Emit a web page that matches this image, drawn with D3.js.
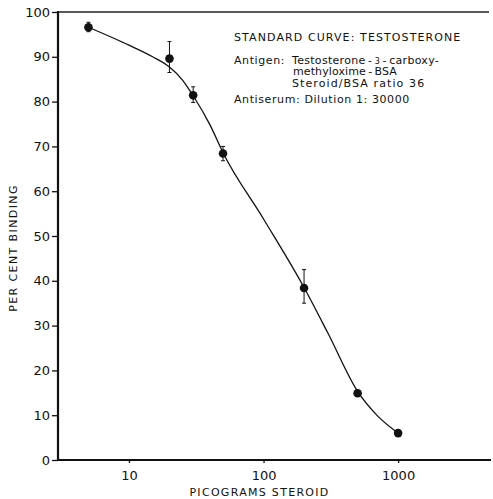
<!DOCTYPE html>
<html>
<head>
<meta charset="utf-8">
<script src="https://cdn.jsdelivr.net/npm/d3@7"></script>
<style>
  body { margin: 0; background: #fff; }
  svg text { font-family: "DejaVu Sans", sans-serif; fill: #111; }
</style>
</head>
<body>
<div id="chart"></div>
<script>
// plot area edges
const margin = { top: 12, right: 2, bottom: 39, left: 58 };
const width = 493 - margin.left - margin.right;
const height = 499 - margin.top - margin.bottom;

// measured points (picograms steroid vs per cent binding)
const doses = [5, 20, 30, 50, 200, 500, 1000];
const binding = [96.6, 89.6, 81.4, 68.4, 38.4, 14.9, 6.0];
const errLow = [95.6, 86.5, 79.8, 66.8, 35.0, null, null];
const errHigh = [97.7, 93.4, 83.3, 70.0, 42.5, null, null];

// hand drawn standard curve
const curveDoses = [5, 10, 15, 20, 25, 30, 40, 50, 100, 200, 300, 500, 700, 1000];
const curveBinding = [96.6, 92.6, 90.0, 87.7, 84.8, 81.3, 74.8, 68.6, 53.8, 38.5, 28.4, 15.3, 9.9, 6.0];

const xTicks = [10, 100, 1000];
const yTicks = [0, 10, 20, 30, 40, 50, 60, 70, 80, 90, 100];

const noteLines = [
  "STANDARD CURVE: TESTOSTERONE",
  "Antigen:",
  "methyloxime\u2009-\u2009BSA",
  "Steroid/BSA ratio 36",
  "Antiserum: Dilution 1: 30000",
];

const svg = d3.select("#chart")
  .append("svg")
  .attr("width", 493)
  .attr("height", 499)
  .append("g")
  .attr("transform", `translate(${margin.left},${margin.top})`);

const x = d3.scaleLog().domain([2.97, 4900]).range([0, width]);
const y = d3.scaleLinear().domain([0, 100]).range([height, 0]);

// y axis
const yAxis = svg.append("g")
  .call(d3.axisLeft(y).tickValues(yTicks).tickSize(6).tickPadding(2).tickSizeOuter(0));
yAxis.select(".domain").remove();
yAxis.selectAll("line").attr("stroke", "#111").attr("stroke-width", 1.3);
yAxis.selectAll("text").style("font-size", "13px").attr("fill", "#111");

// x axis
const xAxis = svg.append("g")
  .attr("transform", `translate(0,${height})`)
  .call(d3.axisBottom(x).tickValues(xTicks).tickFormat(d3.format("d")).tickSize(3).tickPadding(8));
xAxis.select(".domain").remove();
xAxis.selectAll("line").attr("stroke", "#111").attr("stroke-width", 1.3);
xAxis.selectAll("text").style("font-size", "13px").attr("fill", "#111");

// frame lines
svg.append("line").attr("x1", 0).attr("x2", 0).attr("y1", -1).attr("y2", height + 1)
  .attr("stroke", "#111").attr("stroke-width", 2.2);
svg.append("line").attr("x1", 0).attr("x2", width).attr("y1", height).attr("y2", height)
  .attr("stroke", "#111").attr("stroke-width", 2.2);
svg.append("line").attr("x1", 0).attr("x2", width - 2).attr("y1", 0).attr("y2", 0)
  .attr("stroke", "#222").attr("stroke-width", 1.6);

// axis titles
svg.append("text")
  .attr("x", x(100) - 4)
  .attr("y", height + 36)
  .attr("text-anchor", "middle")
  .style("font-size", "11px")
  .style("letter-spacing", "1.3px")
  .text("PICOGRAMS STEROID");

svg.append("text")
  .attr("transform", "rotate(-90)")
  .attr("x", -(y(50) + 12))
  .attr("y", -41)
  .attr("text-anchor", "middle")
  .style("font-size", "11px")
  .style("letter-spacing", "1.4px")
  .text("PER CENT BINDING");

// curve
const line = d3.line()
  .x((d, i) => x(curveDoses[i]))
  .y((d) => y(d))
  .curve(d3.curveMonotoneX);

svg.append("path")
  .datum(curveBinding)
  .attr("fill", "none")
  .attr("stroke", "#111")
  .attr("stroke-width", 1.3)
  .attr("d", line);

// error bars
const bars = doses.map((d, i) => ({ d, lo: errLow[i], hi: errHigh[i] })).filter((b) => b.lo !== null);
const eb = svg.selectAll(".err").data(bars).enter().append("g").attr("class", "err");
eb.append("line")
  .attr("x1", (b) => x(b.d)).attr("x2", (b) => x(b.d))
  .attr("y1", (b) => y(b.hi)).attr("y2", (b) => y(b.lo))
  .attr("stroke", "#111").attr("stroke-width", 1);
eb.append("line")
  .attr("x1", (b) => x(b.d) - 2).attr("x2", (b) => x(b.d) + 2)
  .attr("y1", (b) => y(b.hi)).attr("y2", (b) => y(b.hi))
  .attr("stroke", "#111").attr("stroke-width", 1);
eb.append("line")
  .attr("x1", (b) => x(b.d) - 2).attr("x2", (b) => x(b.d) + 2)
  .attr("y1", (b) => y(b.lo)).attr("y2", (b) => y(b.lo))
  .attr("stroke", "#111").attr("stroke-width", 1);

// points
svg.selectAll(".pt")
  .data(binding)
  .enter()
  .append("circle")
  .attr("class", "pt")
  .attr("cx", (d, i) => x(doses[i]))
  .attr("cy", (d) => y(d))
  .attr("r", 4.3)
  .attr("fill", "#111");

// annotation block
const note = svg.append("g").attr("transform", `translate(${234 - margin.left},0)`);
const noteStyle = (sel) => sel.style("font-size", "11px").style("letter-spacing", "0.6px");

note.append("text").attr("x", 0).attr("y", 41 - margin.top).call(noteStyle)
  .style("letter-spacing", "1.1px").text(noteLines[0]);

const l2 = note.append("text").attr("x", 0).attr("y", 63.5 - margin.top).call(noteStyle);
l2.append("tspan").text(noteLines[1]);
l2.append("tspan").attr("x", 292 - 234).style("letter-spacing", "0.3px").text("Testosterone\u2009-\u2009");
l2.append("tspan").style("font-size", "8px").style("letter-spacing", "0px").text("3");
l2.append("tspan").style("letter-spacing", "0.3px").text("\u2009-\u2009carboxy-");

note.append("text").attr("x", 293 - 234).attr("y", 75 - margin.top).call(noteStyle)
  .style("letter-spacing", "0.1px").text(noteLines[2]);
note.append("text").attr("x", 292 - 234).attr("y", 86.5 - margin.top).call(noteStyle)
  .style("letter-spacing", "1.1px").text(noteLines[3]);
note.append("text").attr("x", 0).attr("y", 103 - margin.top).call(noteStyle).text(noteLines[4]);
</script>
</body>
</html>
